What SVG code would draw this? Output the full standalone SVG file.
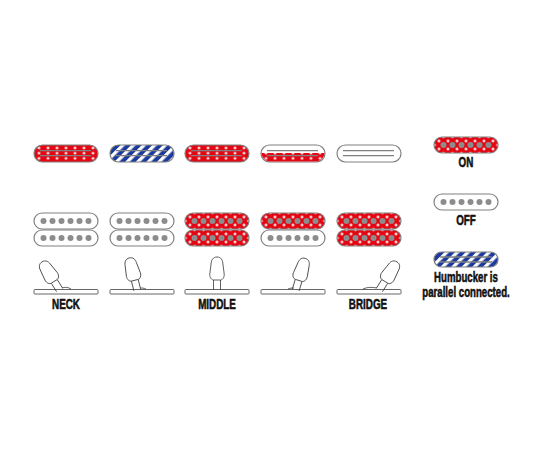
<svg xmlns="http://www.w3.org/2000/svg" width="550" height="450" viewBox="0 0 550 450">
<style>
.lbl{font-family:"Liberation Sans","Arial",sans-serif;font-weight:700;font-size:14.5px;fill:#111;text-anchor:middle;stroke:#111;stroke-width:.55}
.note{font-size:14px}
.body{stroke:#808080;stroke-width:1.2}
.pole{fill:#8c8c8c}
.bar{stroke:#808080;stroke-width:1.3;fill:none}
.tog{fill:#fff;stroke:#444;stroke-width:.85}
.plate{fill:#fff;stroke:#666;stroke-width:1}
</style>
<defs>
<pattern id="dots" patternUnits="userSpaceOnUse" x="0.5" y="0" width="9" height="8">
<rect width="9" height="8" fill="#e30613"/>
<path d="M3 4h3M4.5 2.500v3M-1.300 0h2.600M0 -1.300v2.600M7.700 0h2.600M9 -1.300v2.600M-1.300 8h2.600M0 6.700v2.600M7.700 8h2.600M9 6.700v2.600" stroke="#fff" stroke-width="1.2" fill="none"/>
</pattern>
<pattern id="dotsTop" patternUnits="userSpaceOnUse" x="0.5" y="0.4" width="9" height="5.2">
<rect width="9" height="5.2" fill="#e30613"/>
<path d="M3.200 2.600h2.600M4.500 1.300v2.600" stroke="#fff" stroke-width="1.3" fill="none"/>
</pattern>
<pattern id="stripes" patternUnits="userSpaceOnUse" width="7.5" height="7.5" patternTransform="rotate(45)">
<rect width="7.5" height="7.5" fill="#1b3a9c"/>
<rect width="3.3" height="7.5" fill="#fff"/>
</pattern>
<g id="poles">
<circle class="pole" cx="9.5" cy="8" r="3"/><circle class="pole" cx="18.5" cy="8" r="3"/><circle class="pole" cx="27.5" cy="8" r="3"/><circle class="pole" cx="36.5" cy="8" r="3"/><circle class="pole" cx="45.5" cy="8" r="3"/><circle class="pole" cx="54.5" cy="8" r="3"/>
</g>
<g id="bars"><path class="bar" d="M6 5.7H57M6 10.7H57"/></g>
<g id="humOff"><rect class="body" x="0" y="0" width="64" height="16" rx="8" fill="#fff"/><use href="#poles"/></g>
<g id="humOn"><rect class="body" x="0" y="0" width="64" height="16" rx="8" fill="url(#dots)"/><use href="#poles"/></g>
<g id="toggle">
<path class="tog" d="M-3.5 1L-3.5 -9M3.5 1L3.5 -9"/>
<path class="tog" d="M0 -32C-4 -32 -5.5 -29 -5.8 -26L-7.2 -15C-7.5 -11 -5 -9 -3.5 -9L3.5 -9C5 -9 7.5 -11 7.2 -15L5.8 -26C5.5 -29 4 -32 0 -32Z"/>
</g>
</defs>

<g id="row1">
<g id="top-neck" transform="translate(34 145)"><rect class="body" width="64" height="17" rx="8.5" fill="url(#dotsTop)"/><use href="#bars"/></g>
<g id="top-2" transform="translate(110 145)"><rect class="body" width="64" height="17" rx="8.5" fill="url(#stripes)"/><use href="#bars"/></g>
<g id="top-middle" transform="translate(185 145)"><rect class="body" width="64" height="17" rx="8.5" fill="url(#dotsTop)"/><use href="#bars"/></g>
<g id="top-4" transform="translate(261 145)"><rect class="body" width="64" height="17" rx="8.5" fill="#fff"/><path d="M0.6 8H63.4C63.4 13 59 16.4 55.5 16.4H8.5C5 16.4 0.6 13 0.6 8Z" fill="url(#dotsTop)"/><use href="#bars"/></g>
<g id="top-bridge" transform="translate(337 145)"><rect class="body" width="64" height="17" rx="8.5" fill="#fff"/><use href="#bars"/></g>
</g>

<g id="row2">
<g id="hum-neck"><use href="#humOff" x="34" y="213"/><use href="#humOff" x="34" y="230"/></g>
<g id="hum-2"><use href="#humOff" x="110" y="213"/><use href="#humOff" x="110" y="230"/></g>
<g id="hum-middle"><use href="#humOn" x="185" y="213"/><use href="#humOn" x="185" y="230"/></g>
<g id="hum-4"><use href="#humOn" x="261" y="213"/><use href="#humOff" x="261" y="230"/></g>
<g id="hum-bridge"><use href="#humOn" x="337" y="213"/><use href="#humOn" x="337" y="230"/></g>
</g>

<g id="switches">
<g id="sw-neck"><rect class="plate" x="34" y="289.5" width="64" height="4.5" rx=".8"/><path class="tog" d="M62 288C65 287 68 287 71 289"/><use href="#toggle" transform="translate(59 289) rotate(-32)"/></g>
<g id="sw-2"><rect class="plate" x="110" y="289.5" width="64" height="4.5" rx=".8"/><path class="tog" d="M140 288C142 288 144 288 146 289"/><use href="#toggle" transform="translate(137 289) rotate(-14)"/></g>
<g id="sw-middle"><rect class="plate" x="185" y="289.5" width="64" height="4.5" rx=".8"/><use href="#toggle" transform="translate(217 289)"/></g>
<g id="sw-4"><rect class="plate" x="261" y="289.5" width="64" height="4.5" rx=".8"/><path class="tog" d="M288 289C290 288 292 288 294 288"/><use href="#toggle" transform="translate(296 289) rotate(17)"/></g>
<g id="sw-bridge"><rect class="plate" x="337" y="289.5" width="64" height="4.5" rx=".8"/><path class="tog" d="M363 289C367 287 372 287 377 288"/><use href="#toggle" transform="translate(380 289) rotate(32)"/></g>
</g>

<g id="labels">
<text class="lbl" transform="translate(66 308.5) scale(.68 1)">NECK</text>
<text class="lbl" transform="translate(217 308.5) scale(.68 1)">MIDDLE</text>
<text class="lbl" transform="translate(368 308.5) scale(.68 1)">BRIDGE</text>
</g>

<g id="legend">
<g id="legend-on" transform="translate(434 137)"><use href="#humOn"/></g>
<text class="lbl" transform="translate(466 167) scale(.68 1)">ON</text>
<g id="legend-off" transform="translate(434 194)"><use href="#humOff"/></g>
<text class="lbl" transform="translate(466 225) scale(.68 1)">OFF</text>
<g id="legend-parallel" transform="translate(434 252)"><rect class="body" width="64" height="15" rx="7.5" fill="url(#stripes)"/><path class="bar" d="M6 5H58M6 10H58"/></g>
<text class="lbl note" transform="translate(466 282) scale(.69 1)">Humbucker is</text>
<text class="lbl note" transform="translate(466 297) scale(.69 1)">parallel connected.</text>
</g>
</svg>
